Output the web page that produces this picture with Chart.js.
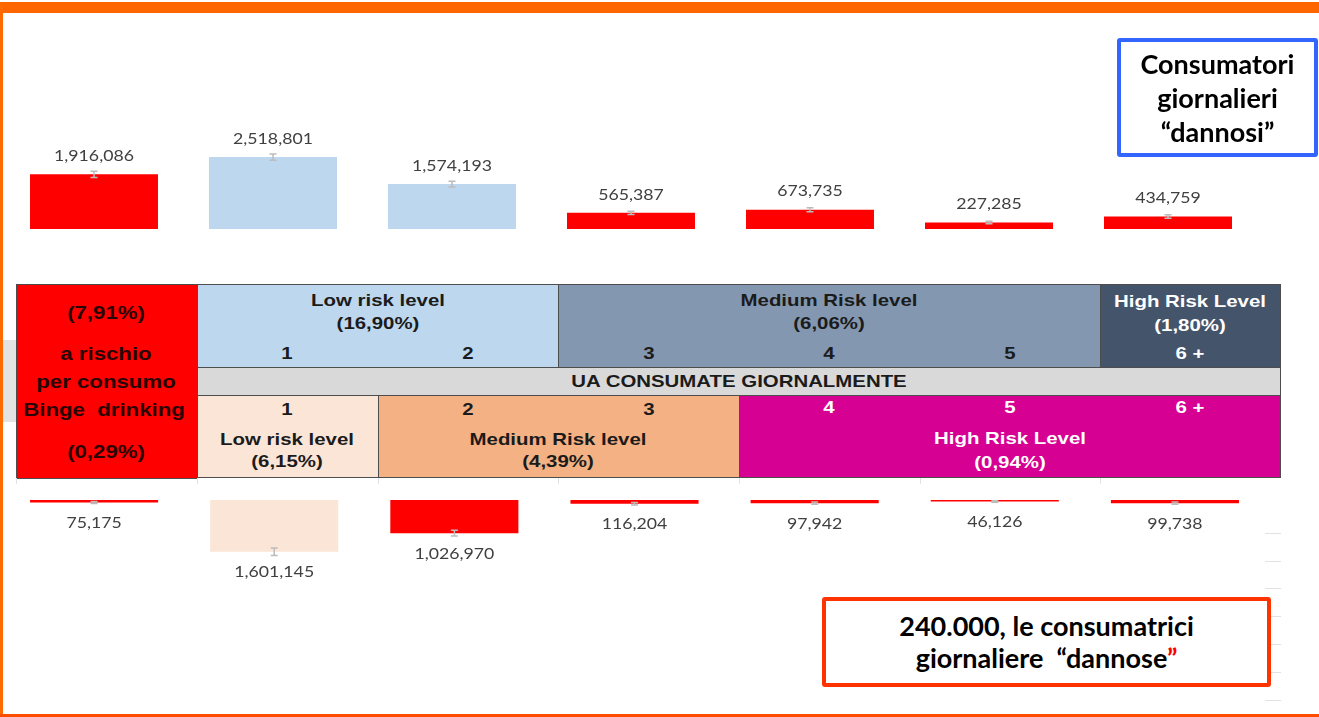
<!DOCTYPE html>
<html>
<head>
<meta charset="utf-8">
<script src="https://cdn.jsdelivr.net/npm/chart.js@4.4.1/dist/chart.umd.min.js"></script>
<style>
  html, body { margin: 0; padding: 0; background: #fff; }
  #page { position: relative; width: 1319px; height: 717px; overflow: hidden; background: #fff; }
  .abs { position: absolute; }
  canvas { position: absolute; left: 0; }
  .cell { position: absolute; box-sizing: border-box; border: 1px solid #4d4d4d; }
  .t {
    position: absolute; white-space: pre; line-height: 1;
    font-family: "Liberation Sans", Arial, sans-serif; font-weight: bold; font-size: 17px;
    color: #1b1b1b; transform: translate(-50%, -50%) scaleX(1.2);
  }
  .r { font-size: 18.5px; color: #2a0505; }
  .w { color: #fff; }
  .stub { position: absolute; top: 478px; width: 1px; height: 6px; background: #e2e2e2; }
  .note {
    position: absolute; box-sizing: border-box; display: flex; align-items: center; justify-content: center;
    text-align: center; font-family: Lato, "Open Sans", sans-serif; font-weight: bold; color: #000;
    border-radius: 3px;
  }
  .note > div { white-space: pre; }
</style>
</head>
<body>
<div id="page">
  <!-- frame -->
  <div class="abs" style="left:0;top:2px;width:1319px;height:11px;background:#ff6600;z-index:5"></div>
  <div class="abs" style="left:0;top:2px;width:3px;height:715px;background:#ff6a00;z-index:5"></div>
  <div class="abs" style="left:0;top:714px;width:1319px;height:3px;background:#ff4d00;z-index:5"></div>
  <div class="abs" style="left:3px;top:340px;width:13px;height:82px;background:#e3e3e3"></div>

  <canvas id="topChart" width="1319" height="220" style="top:20px"></canvas>
  <canvas id="bottomChart" width="1319" height="225" style="top:490px"></canvas>

  <!-- risk table -->
  <div class="cell" style="left:16px;top:284px;width:182px;height:195px;background:#ff0000"></div>
  <div class="cell" style="left:197px;top:284px;width:362px;height:84px;background:#bdd7ee"></div>
  <div class="cell" style="left:558px;top:284px;width:543px;height:84px;background:#8497b0"></div>
  <div class="cell" style="left:1100px;top:284px;width:181px;height:84px;background:#44546a"></div>
  <div class="cell" style="left:197px;top:367px;width:1084px;height:29px;background:#d9d9d9"></div>
  <div class="cell" style="left:197px;top:395px;width:182px;height:83px;background:#fbe5d6"></div>
  <div class="cell" style="left:378px;top:395px;width:362px;height:83px;background:#f4b183"></div>
  <div class="cell" style="left:739px;top:395px;width:542px;height:83px;background:#d60093"></div>

  <div class="stub" style="left:16px"></div><div class="stub" style="left:197px"></div>
  <div class="stub" style="left:378px"></div><div class="stub" style="left:558px"></div>
  <div class="stub" style="left:739px"></div><div class="stub" style="left:920px"></div>
  <div class="stub" style="left:1100px"></div>

  <div class="t r" style="left:106px;top:313px">(7,91%)</div>
  <div class="t r" style="left:106px;top:354px">a rischio</div>
  <div class="t r" style="left:106px;top:382px">per consumo</div>
  <div class="t r" style="left:104px;top:410px">Binge  drinking</div>
  <div class="t r" style="left:106px;top:452px">(0,29%)</div>

  <div class="t" style="left:378px;top:300px">Low risk level</div>
  <div class="t" style="left:378px;top:323px">(16,90%)</div>
  <div class="t" style="left:829px;top:300px">Medium Risk level</div>
  <div class="t" style="left:829px;top:323px">(6,06%)</div>
  <div class="t w" style="left:1190px;top:301px">High Risk Level</div>
  <div class="t w" style="left:1190px;top:325px">(1,80%)</div>

  <div class="t" style="left:287px;top:353px">1</div>
  <div class="t" style="left:468px;top:353px">2</div>
  <div class="t" style="left:649px;top:353px">3</div>
  <div class="t" style="left:829px;top:353px">4</div>
  <div class="t" style="left:1010px;top:353px">5</div>
  <div class="t w" style="left:1190px;top:353px">6 +</div>

  <div class="t" style="left:739px;top:381px">UA CONSUMATE GIORNALMENTE</div>

  <div class="t" style="left:287px;top:409px">1</div>
  <div class="t" style="left:468px;top:409px">2</div>
  <div class="t" style="left:649px;top:409px">3</div>
  <div class="t w" style="left:829px;top:407px">4</div>
  <div class="t w" style="left:1010px;top:407px">5</div>
  <div class="t w" style="left:1190px;top:407px">6 +</div>
  <div class="t" style="left:287px;top:439px">Low risk level</div>
  <div class="t" style="left:287px;top:461px">(6,15%)</div>
  <div class="t" style="left:558px;top:439px">Medium Risk level</div>
  <div class="t" style="left:558px;top:461px">(4,39%)</div>
  <div class="t w" style="left:1010px;top:438px">High Risk Level</div>
  <div class="t w" style="left:1010px;top:462px">(0,94%)</div>

  <!-- callouts -->
  <div class="note" style="left:1117px;top:38px;width:201px;height:119px;border:4px solid #3366ff;font-size:27px;line-height:34px;z-index:6"><div>Consumatori
giornalieri
“dannosi”</div></div>
  <div class="note" style="left:822px;top:597px;width:449px;height:90px;border:4px solid #ff3300;font-size:27px;line-height:32px;z-index:6;background:#fff"><div>240.000, le consumatrici
giornaliere  “dannose<span style="color:#ff0000">”</span></div></div>
</div>

<script>
// Daily drinkers by units consumed per day (first column: binge drinking)
const categories = ['Binge drinking', '1', '2', '3', '4', '5', '6 +'];
const maleValues = [1916086, 2518801, 1574193, 565387, 673735, 227285, 434759];
const maleErrors = [110000, 110000, 100000, 60000, 70000, 40000, 60000];
const femaleValues = [75175, 1601145, 1026970, 116204, 97942, 46126, 99738];
const femaleErrors = [30000, 115000, 90000, 35000, 35000, 25000, 35000];

const maleColors = ['#ff0000', '#bdd7ee', '#bdd7ee', '#ff0000', '#ff0000', '#ff0000', '#ff0000'];
const femaleColors = ['#ff0000', '#fbe5d6', '#ff0000', '#ff0000', '#ff0000', '#ff0000', '#ff0000'];

// value labels and small error whiskers at the end of each bar
const barExtras = {
  id: 'barExtras',
  afterDatasetsDraw(chart, args, opts) {
    const ctx = chart.ctx;
    const meta = chart.getDatasetMeta(0);
    const values = chart.data.datasets[0].data;
    const yScale = chart.scales.y;
    meta.data.forEach((bar, i) => {
      const v = values[i];
      const e = opts.errors[i];
      const y1 = yScale.getPixelForValue(v - e);
      const y2 = yScale.getPixelForValue(v + e);
      ctx.save();
      ctx.strokeStyle = '#bcbcbc';
      ctx.lineWidth = 1.5;
      ctx.beginPath();
      ctx.moveTo(bar.x, y1); ctx.lineTo(bar.x, y2);
      ctx.moveTo(bar.x - 3.5, y1); ctx.lineTo(bar.x + 3.5, y1);
      ctx.moveTo(bar.x - 3.5, y2); ctx.lineTo(bar.x + 3.5, y2);
      ctx.stroke();
      ctx.translate(bar.x, bar.y + opts.labelOffset);
      ctx.scale(1.22, 1);
      ctx.font = '14.5px Lato, "Open Sans", sans-serif';
      ctx.fillStyle = '#404040';
      ctx.textAlign = 'center';
      ctx.textBaseline = 'middle';
      ctx.fillText(v.toLocaleString('en-US'), 0, 0);
      ctx.restore();
    });
  }
};

Chart.defaults.font.family = 'Lato, "Open Sans", sans-serif';

new Chart(document.getElementById('topChart'), {
  type: 'bar',
  data: {
    labels: categories,
    datasets: [{ data: maleValues, backgroundColor: maleColors, borderWidth: 0,
                 barPercentage: 0.715, categoryPercentage: 1 }]
  },
  options: {
    responsive: false, animation: false, devicePixelRatio: 1,
    layout: { padding: { left: 4.5, right: 61.5, top: 0, bottom: 11 } },
    plugins: { legend: { display: false }, tooltip: { enabled: false },
               barExtras: { errors: maleErrors, labelOffset: -18 } },
    scales: {
      x: { display: false },
      y: { display: false, min: 0, max: 7320000 }
    }
  },
  plugins: [barExtras]
});

new Chart(document.getElementById('bottomChart'), {
  type: 'bar',
  data: {
    labels: categories,
    datasets: [{ data: femaleValues, backgroundColor: femaleColors, borderWidth: 0,
                 barPercentage: 0.711, categoryPercentage: 1 }]
  },
  options: {
    responsive: false, animation: false, devicePixelRatio: 1,
    layout: { padding: { left: 4, right: 38, top: 10, bottom: 15 } },
    plugins: { legend: { display: false }, tooltip: { enabled: false },
               barExtras: { errors: femaleErrors, labelOffset: 21 } },
    scales: {
      x: { display: false },
      y: { display: false, reverse: true, min: 0, max: 6190000 },
      y2: {
        position: 'right', reverse: true, min: -0.2, max: 7,
        afterBuildTicks: (axis) => { axis.ticks = axis.ticks.filter(t => Number.isInteger(t.value)); },
        ticks: { display: false, stepSize: 1 },
        border: { display: false },
        grid: { drawOnChartArea: false, drawTicks: true, tickLength: 16, color: '#e2e2e2', lineWidth: 1 }
      }
    }
  },
  plugins: [barExtras]
});
</script>
</body>
</html>
